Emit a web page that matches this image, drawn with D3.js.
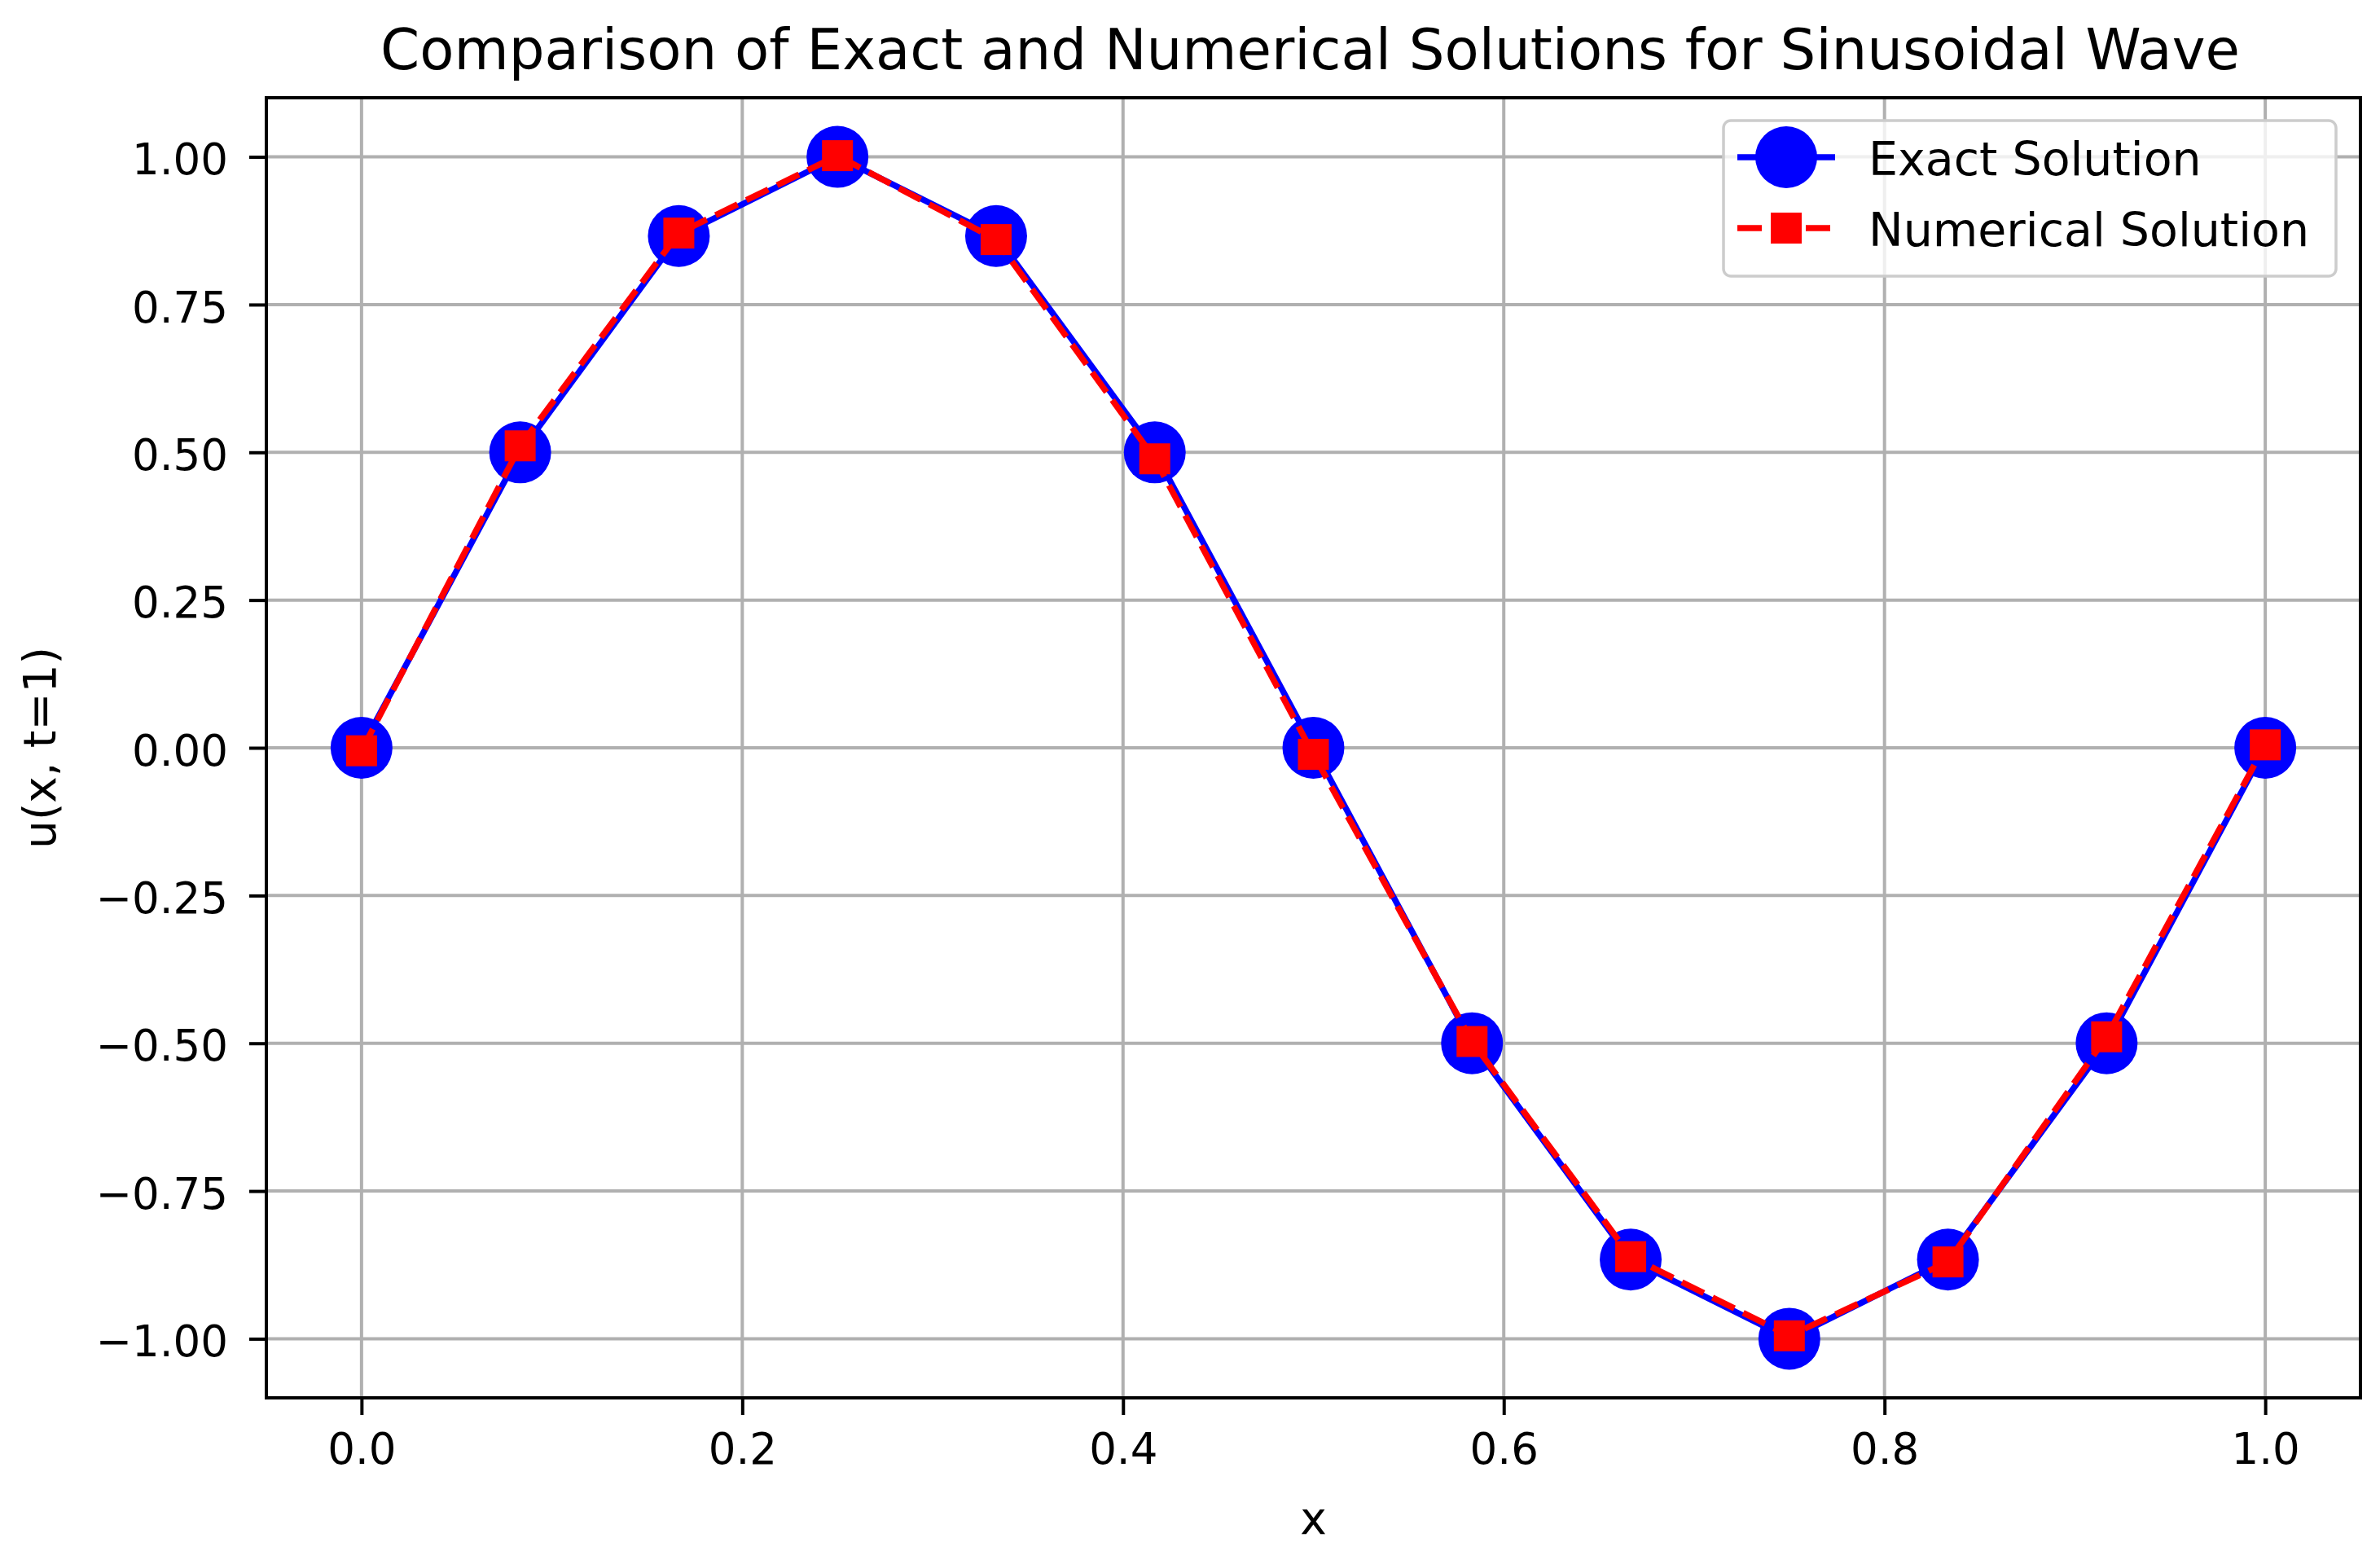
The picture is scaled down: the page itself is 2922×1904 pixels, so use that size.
<!DOCTYPE html>
<html>
<head>
<meta charset="utf-8">
<script src="https://cdn.jsdelivr.net/npm/d3@7"></script>
<style>
  html, body { margin: 0; padding: 0; background: #ffffff; }
  svg { display: block; }
  text { font-family: "DejaVu Sans", sans-serif; fill: #000; }
</style>
</head>
<body>
<script>
// ---- data ----
const xValues = [0, 1/12, 2/12, 3/12, 4/12, 5/12, 6/12, 7/12, 8/12, 9/12, 10/12, 11/12, 1];
const exactValues = [0, 0.5, 0.866, 1.0, 0.866, 0.5, 0, -0.5, -0.866, -1.0, -0.866, -0.5, 0];
const numericalValues = [-0.005, 0.511, 0.871, 1.002, 0.860, 0.489, -0.011, -0.497, -0.861, -0.995, -0.870, -0.489, 0.005];
const xTicks = [0.0, 0.2, 0.4, 0.6, 0.8, 1.0];
const yTicks = [-1.0, -0.75, -0.5, -0.25, 0.0, 0.25, 0.5, 0.75, 1.0];
const seriesNames = ["Exact Solution", "Numerical Solution"];
const titleText = "Comparison of Exact and Numerical Solutions for Sinusoidal Wave";
const xLabelText = "x";
const yLabelText = "u(x, t=1)";

// ---- layout ----
const W = 2922, H = 1904;
const plot = { left: 327, right: 2898, top: 120, bottom: 1716 };

const svg = d3.select("body").append("svg").attr("width", W).attr("height", H);
svg.append("rect").attr("width", W).attr("height", H).attr("fill", "#fff");

const x = d3.scaleLinear().domain([-0.05, 1.05]).range([plot.left, plot.right]);
const y = d3.scaleLinear().domain([-1.1, 1.1]).range([plot.bottom, plot.top]);

const fmtMinus = s => s.replace("-", "\u2212");

// grid
const grid = svg.append("g");
grid.selectAll("line.gx").data(xTicks).enter().append("line")
  .attr("x1", d => x(d)).attr("x2", d => x(d))
  .attr("y1", plot.top).attr("y2", plot.bottom)
  .attr("stroke", "#b0b0b0").attr("stroke-width", 4);
grid.selectAll("line.gy").data(yTicks).enter().append("line")
  .attr("x1", plot.left).attr("x2", plot.right)
  .attr("y1", d => y(d)).attr("y2", d => y(d))
  .attr("stroke", "#b0b0b0").attr("stroke-width", 4);

// axes
const xAxis = d3.axisBottom(x).tickValues(xTicks).tickFormat(d3.format(".1f"))
  .tickSizeInner(21).tickSizeOuter(0).tickPadding(22);
const yAxis = d3.axisLeft(y).tickValues(yTicks).tickFormat(d => fmtMinus(d3.format(".2f")(d)))
  .tickSizeInner(21).tickSizeOuter(0).tickPadding(26);

const gx = svg.append("g").attr("transform", `translate(0,${plot.bottom})`).call(xAxis);
const gy = svg.append("g").attr("transform", `translate(${plot.left},0)`).call(yAxis);
[gx, gy].forEach(g => {
  g.select(".domain").remove();
  g.selectAll(".tick line").attr("stroke", "#000").attr("stroke-width", 4);
  g.selectAll(".tick text").attr("font-size", 53).attr("font-family", "DejaVu Sans").attr("fill", "#000");
});
gx.selectAll(".tick text").attr("dy", "0.71em");
gy.selectAll(".tick text").attr("dy", "0.40em");

// data lines
const dataG = svg.append("g");
const line = d3.line().x(d => x(d[0])).y(d => y(d[1]));
const exactPts = xValues.map((v, i) => [v, exactValues[i]]);
const numPts = xValues.map((v, i) => [v, numericalValues[i]]);

dataG.append("path").datum(exactPts).attr("d", line)
  .attr("fill", "none").attr("stroke", "#0000ff").attr("stroke-width", 7.5)
  .attr("stroke-linejoin", "round").attr("stroke-linecap", "square");
dataG.selectAll("circle.ex").data(exactPts).enter().append("circle")
  .attr("cx", d => x(d[0])).attr("cy", d => y(d[1])).attr("r", 38)
  .attr("fill", "#0000ff");

dataG.append("path").datum(numPts).attr("d", line)
  .attr("fill", "none").attr("stroke", "#ff0000").attr("stroke-width", 7.5)
  .attr("stroke-dasharray", "30,12").attr("stroke-linejoin", "round");
const sq = 38;
dataG.selectAll("rect.nm").data(numPts).enter().append("rect")
  .attr("x", d => x(d[0]) - sq / 2).attr("y", d => y(d[1]) - sq / 2)
  .attr("width", sq).attr("height", sq).attr("fill", "#ff0000");

// frame (spines)
svg.append("rect").attr("x", plot.left).attr("y", plot.top)
  .attr("width", plot.right - plot.left).attr("height", plot.bottom - plot.top)
  .attr("fill", "none").attr("stroke", "#000").attr("stroke-width", 4);

// labels
svg.append("text").attr("x", (plot.left + plot.right) / 2 - 4).attr("y", 85)
  .attr("text-anchor", "middle").attr("font-size", 69).text(titleText);
svg.append("text").attr("x", (plot.left + plot.right) / 2).attr("y", 1883)
  .attr("text-anchor", "middle").attr("font-size", 55).text(xLabelText);
svg.append("text").attr("transform", `translate(68,${(plot.top + plot.bottom) / 2}) rotate(-90)`)
  .attr("text-anchor", "middle").attr("font-size", 55).text(yLabelText);

// legend
const leg = svg.append("g");
leg.append("rect").attr("x", 2116).attr("y", 148).attr("width", 752).attr("height", 191)
  .attr("rx", 9).attr("ry", 9)
  .attr("fill", "#ffffff").attr("fill-opacity", 0.8)
  .attr("stroke", "#cccccc").attr("stroke-width", 3.5);
const legRows = [
  { name: seriesNames[0], cy: 193, color: "#0000ff", dash: null, marker: "circle" },
  { name: seriesNames[1], cy: 280, color: "#ff0000", dash: "30,12", marker: "square" }
];
legRows.forEach(r => {
  leg.append("line").attr("x1", 2133).attr("x2", 2253).attr("y1", r.cy).attr("y2", r.cy)
    .attr("stroke", r.color).attr("stroke-width", 7.5)
    .attr("stroke-dasharray", r.dash);
  if (r.marker === "circle") {
    leg.append("circle").attr("cx", 2193).attr("cy", r.cy).attr("r", 38).attr("fill", r.color);
  } else {
    leg.append("rect").attr("x", 2193 - sq / 2).attr("y", r.cy - sq / 2)
      .attr("width", sq).attr("height", sq).attr("fill", r.color);
  }
  leg.append("text").attr("x", 2294).attr("y", r.cy + 22).attr("font-size", 57).text(r.name);
});
</script>
</body>
</html>
